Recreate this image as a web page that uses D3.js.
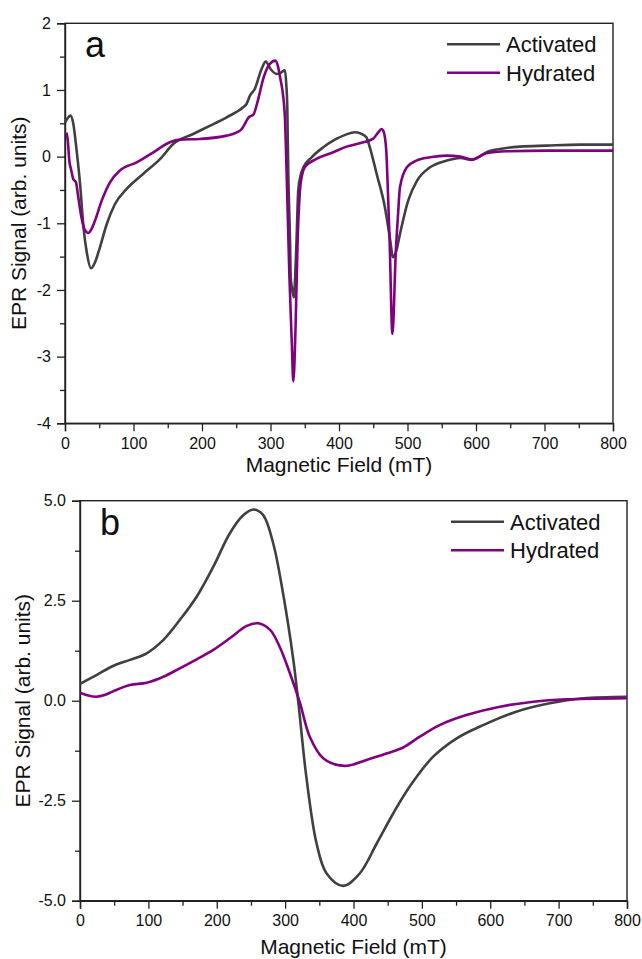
<!DOCTYPE html>
<html>
<head>
<meta charset="utf-8">
<script src="https://cdn.jsdelivr.net/npm/d3@7.9.0/dist/d3.min.js"></script>
<style>
  html, body { margin: 0; padding: 0; background: #fff; }
  svg { display: block; }
  text { font-family: Arial, 'Liberation Sans', sans-serif; fill: #111; }
</style>
</head>
<body>
<div id="chart"></div>
<script>
// ---- data: [field (mT), signal] ----
const seriesNames = ['Activated', 'Hydrated'];
const seriesColors = ['#404040', '#800080'];

const activatedA = [
  [0, 0.51], [4, 0.58], [8, 0.615], [12, 0.5], [17, 0.09], [22, -0.41], [27, -1.06],
  [32, -1.45], [38, -1.675], [44, -1.58], [51, -1.36], [61, -1.01], [73, -0.71],
  [90, -0.485], [114, -0.26], [139, -0.035], [158, 0.19], [187, 0.34], [212, 0.465],
  [236, 0.59], [260, 0.74], [265, 0.79], [270, 0.915], [277, 1.015], [287, 1.315],
  [293, 1.425], [300, 1.315], [309, 1.24], [316, 1.265], [321, 1.3], [323, 1.09],
  [324.5, 0.74], [326, -0.26], [328.5, -1.26], [329.5, -1.81], [331, -1.95], [334, -2.11],
  [336, -1.8], [338, -1.26], [340.5, -0.51], [344, -0.28], [348, -0.16], [360, -0.01],
  [377, 0.14], [396, 0.265], [410, 0.33], [423, 0.365], [432, 0.345], [440, 0.29],
  [445, 0.14], [455, -0.26], [467, -0.76], [474, -1.2], [479, -1.51], [484, -1.4],
  [489, -1.16], [501, -0.66], [514, -0.36], [533, -0.16], [557, -0.06], [577, -0.02],
  [594, -0.05], [605, 0.0], [615, 0.065], [635, 0.115], [664, 0.15], [703, 0.165],
  [752, 0.18], [800, 0.18]
];

const hydratedA = [
  [2, 0.36], [4, 0.25], [6.3, -0.06], [9, -0.2], [12, -0.335], [16, -0.385], [19.4, -0.61],
  [24, -0.91], [29, -1.1], [34, -1.145], [39, -1.08], [43.8, -0.96], [53.6, -0.66],
  [65.7, -0.385], [80, -0.21], [104.6, -0.085], [129, 0.065], [153, 0.215], [168, 0.255],
  [197, 0.265], [236, 0.315], [250, 0.36], [258, 0.415], [263, 0.5], [268, 0.59],
  [275, 0.63], [282, 0.86], [290, 1.19], [299, 1.39], [307, 1.44], [311, 1.35],
  [314, 1.19], [318.7, 0.89], [321, 0.6], [323.6, -0.26], [327.5, -1.76], [331, -2.76],
  [333.3, -3.37], [336.7, -2.51], [339.6, -1.26], [343, -0.51], [346, -0.28], [350, -0.16],
  [367, -0.035], [391.7, 0.065], [411, 0.15], [430, 0.2], [435.5, 0.215], [450, 0.27],
  [457, 0.36], [462, 0.415], [465, 0.38], [469, 0.09], [471, -0.4], [474, -1.3],
  [478, -2.66], [483, -1.41], [486, -0.9], [489, -0.46], [499, -0.16], [513, -0.06],
  [533, -0.01], [557, 0.015], [577, 0.0], [594, -0.045], [615, 0.05], [645, 0.08],
  [703, 0.09], [800, 0.09]
];

const activatedB = [
  [0, 0.42], [24, 0.64], [49, 0.875], [73, 1.02], [97.5, 1.185], [122, 1.52], [146, 2.02],
  [170.6, 2.6], [195, 3.35], [219, 4.18], [239, 4.64], [254, 4.78], [268, 4.64],
  [282.6, 3.93], [297, 2.68], [312, 1.02], [320, -0.15], [331, -1.9], [346, -3.57],
  [360.7, -4.32], [385, -4.63], [409, -4.32], [434, -3.57], [458, -2.82], [482, -2.15],
  [516.5, -1.4], [551, -0.94], [589.6, -0.61], [638, -0.275], [687, -0.065], [736, 0.06],
  [800, 0.1]
];

const hydratedB = [
  [0, 0.2], [12, 0.13], [24, 0.1], [36, 0.14], [49, 0.24], [73, 0.39], [97.5, 0.45],
  [122, 0.6], [146, 0.81], [170.6, 1.035], [195, 1.27], [219, 1.56], [244, 1.87],
  [260.7, 1.935], [278, 1.77], [292, 1.35], [307, 0.685], [321.6, -0.05], [336, -0.9],
  [355.7, -1.44], [387, -1.63], [419, -1.48], [448, -1.32], [472.6, -1.17], [497, -0.9],
  [526, -0.61], [565, -0.36], [614, -0.15], [663, -0.025], [711.6, 0.035], [800, 0.06]
];

const xMajor = [0, 100, 200, 300, 400, 500, 600, 700, 800];
const xMinor = [50, 150, 250, 350, 450, 550, 650, 750];
const yMajorA = [-4, -3, -2, -1, 0, 1, 2];
const yMinorA = [-3.5, -2.5, -1.5, -0.5, 0.5, 1.5];
const yMajorB = [-5, -2.5, 0, 2.5, 5];
const yMinorB = [-3.75, -1.25, 1.25, 3.75];

const width = 642;
const height = 959;

const svg = d3.select('#chart').append('svg')
  .attr('width', width)
  .attr('height', height);

function drawPanel(p) {
  const x = d3.scaleLinear().domain([0, 800]).range([p.left, p.right]);
  const y = d3.scaleLinear().domain(p.yDomain).range([p.bottom, p.top]);
  const g = svg.append('g');

  // frame (top + right)
  g.append('rect')
    .attr('x', p.left).attr('y', p.top)
    .attr('width', p.right - p.left).attr('height', p.bottom - p.top)
    .attr('fill', 'none').attr('stroke', '#222').attr('stroke-width', 1.4);

  // minor ticks
  g.append('g')
    .attr('transform', `translate(0,${p.bottom})`)
    .call(d3.axisBottom(x).tickValues(xMinor).tickSize(5).tickFormat(''))
    .call(a => a.select('.domain').remove());
  g.append('g')
    .attr('transform', `translate(${p.left},0)`)
    .call(d3.axisLeft(y).tickValues(p.yMinor).tickSize(5).tickFormat(''))
    .call(a => a.select('.domain').remove());

  // major ticks + labels
  const xa = g.append('g')
    .attr('transform', `translate(0,${p.bottom})`)
    .call(d3.axisBottom(x).tickValues(xMajor).tickSize(8).tickPadding(6).tickFormat(d => String(d)));
  const ya = g.append('g')
    .attr('transform', `translate(${p.left},0)`)
    .call(d3.axisLeft(y).tickValues(p.yMajor).tickSize(8).tickPadding(6).tickFormat(p.yFormat));
  [xa, ya].forEach(a => {
    a.select('.domain').attr('stroke', '#222').attr('stroke-width', 1.4);
    a.selectAll('text').attr('font-size', 16).attr('font-family', null).attr('fill', '#111');
  });
  g.selectAll('.tick line').attr('stroke', '#222').attr('stroke-width', 1.3);

  // curves
  const line = d3.line()
    .x(d => x(d[0]))
    .y(d => y(d[1]))
    .curve(p.curve);

  p.series.forEach((s, i) => {
    g.append('path')
      .datum(s)
      .attr('fill', 'none')
      .attr('stroke', seriesColors[i])
      .attr('stroke-width', 2.6)
      .attr('stroke-linejoin', 'round')
      .attr('d', line);
  });

  // axis titles
  g.append('text')
    .attr('x', (p.left + p.right) / 2)
    .attr('y', p.xTitleY)
    .attr('text-anchor', 'middle')
    .attr('font-size', 21)
    .text('Magnetic Field (mT)');
  g.append('text')
    .attr('transform', `translate(${p.yTitleX},${(p.top + p.bottom) / 2}) rotate(-90)`)
    .attr('text-anchor', 'middle')
    .attr('font-size', 21)
    .text('EPR Signal (arb. units)');

  // panel letter
  g.append('text')
    .attr('x', p.left + 20)
    .attr('y', p.top + 34)
    .attr('font-size', 36)
    .text(p.letter);

  // legend
  seriesNames.forEach((name, i) => {
    const ly = p.top + 21 + i * 28.5;
    g.append('line')
      .attr('x1', p.legendX).attr('x2', p.legendX + 53)
      .attr('y1', ly).attr('y2', ly)
      .attr('stroke', seriesColors[i]).attr('stroke-width', 2.6);
    g.append('text')
      .attr('x', p.legendX + 59)
      .attr('y', ly)
      .attr('dy', '0.36em')
      .attr('font-size', 22)
      .text(name);
  });
}

drawPanel({
  letter: 'a',
  left: 65, right: 613, top: 23.3, bottom: 423.3,
  yDomain: [-4, 2], yMajor: yMajorA, yMinor: yMinorA, yFormat: d => String(d),
  xTitleY: 472, yTitleX: 25.5, legendX: 447,
  curve: d3.curveMonotoneX,
  series: [activatedA, hydratedA]
});

drawPanel({
  letter: 'b',
  left: 80, right: 627, top: 500.7, bottom: 900.7,
  yDomain: [-5, 5], yMajor: yMajorB, yMinor: yMinorB, yFormat: d => d.toFixed(1),
  xTitleY: 954, yTitleX: 30, legendX: 451,
  curve: d3.curveCatmullRom.alpha(0.5),
  series: [activatedB, hydratedB]
});
</script>
</body>
</html>
